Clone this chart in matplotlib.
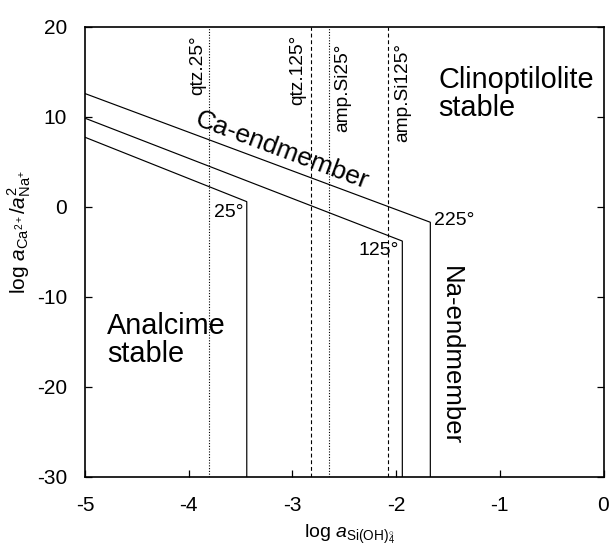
import matplotlib
matplotlib.use("Agg")
import matplotlib.pyplot as plt

plt.rcParams['font.family'] = ['Liberation Sans', 'DejaVu Sans']
plt.rcParams['mathtext.fontset'] = 'custom'
plt.rcParams['mathtext.rm'] = 'Liberation Sans'
plt.rcParams['mathtext.it'] = 'Liberation Sans:italic'

# Data
temps = ['25°', '125°', '225°']
x_start = [-5.0, -5.0, -5.0]
y_start = [7.74, 9.86, 12.6]
x_corner = [-3.44, -1.94, -1.67]
y_corner = [0.58, -3.8, -1.71]

silica_names = ['qtz.25°', 'qtz.125°', 'amp.Si25°', 'amp.Si125°']
silica_x = [-3.80, -2.82, -2.65, -2.08]

xticks = [-5, -4, -3, -2, -1, 0]
yticks = [20, 10, 0, -10, -20, -30]

fig = plt.figure(figsize=(6.10, 5.48), dpi=100)
ax = fig.add_axes([85/610, 1-476.7/548, (603.5-85)/610, (476.7-27)/548])
ax.set_xlim(-5, 0)
ax.set_ylim(-30, 20)

ymin = -30
for xs, ys, xc, yc in zip(x_start, y_start, x_corner, y_corner):
    ax.plot([xs, xc, xc], [ys, yc, ymin], color='black', lw=0.85, solid_joinstyle='miter')

styles = [(0, (1, 1.5)), (0, (3.5, 2.5)), (0, (1, 1.5)), (0, (3.5, 2.5))]
for xv, st in zip(silica_x, styles):
    ax.plot([xv, xv], [-30, 20], color='black', lw=0.8, linestyle=st)

# Silica labels
lab_off = [-0.11, -0.13, 0.14, 0.14]
lab_top = [19.1, 19.1, 18.2, 18.2]
for name, xv, off, top in zip(silica_names, silica_x, lab_off, lab_top):
    ax.text(xv + off, top, name, rotation=90, ha='center', va='top', fontsize=13.8)

# Temperature labels
ax.text(-3.47, -0.6, temps[0], ha='right', va='center', fontsize=14)
ax.text(-1.97, -4.9, temps[1], ha='right', va='center', fontsize=14)
ax.text(-1.63, -1.5, temps[2], ha='left', va='center', fontsize=14)

# Region labels
ax.text(-1.59, 12.6, 'Clinoptilolite\nstable', ha='left', va='center', fontsize=20.8,
        linespacing=1.0)
ax.text(-4.79, -14.8, 'Analcime\nstable', ha='left', va='center', fontsize=20.8,
        linespacing=1.0)
ax.text(-3.1, 6.3, 'Ca-endmember', rotation=-20.5, ha='center', va='center', fontsize=19,
        rotation_mode='anchor')
ax.text(-1.47, -16.5, 'Na-endmember', rotation=-90, ha='center', va='center', fontsize=18.5)

ax.set_xticks(xticks)
ax.set_yticks(yticks)
ax.set_xticklabels([str(t) for t in xticks])
ax.set_yticklabels([str(t) for t in yticks])
ax.tick_params(axis='both', direction='in', length=5, width=0.9, labelsize=15)
ax.tick_params(axis='x', pad=14)
ax.tick_params(axis='y', pad=13, right=True)
for sp in ax.spines.values():
    sp.set_linewidth(1.2)

ax.set_xlabel(r'log $a_{\rm Si(OH)_4^{\circ}}$', fontsize=14, labelpad=5)
ax.set_ylabel(r'log $a_{\rm Ca^{2+}}/a^2_{\rm Na^{+}}$', fontsize=15, labelpad=2)
ax.xaxis.set_label_coords(0.51, -0.1, transform=None) if False else None
ax.yaxis.label.set_y(0.545)
ax.xaxis.label.set_x(0.51)

fig.savefig('out.png', dpi=100)
